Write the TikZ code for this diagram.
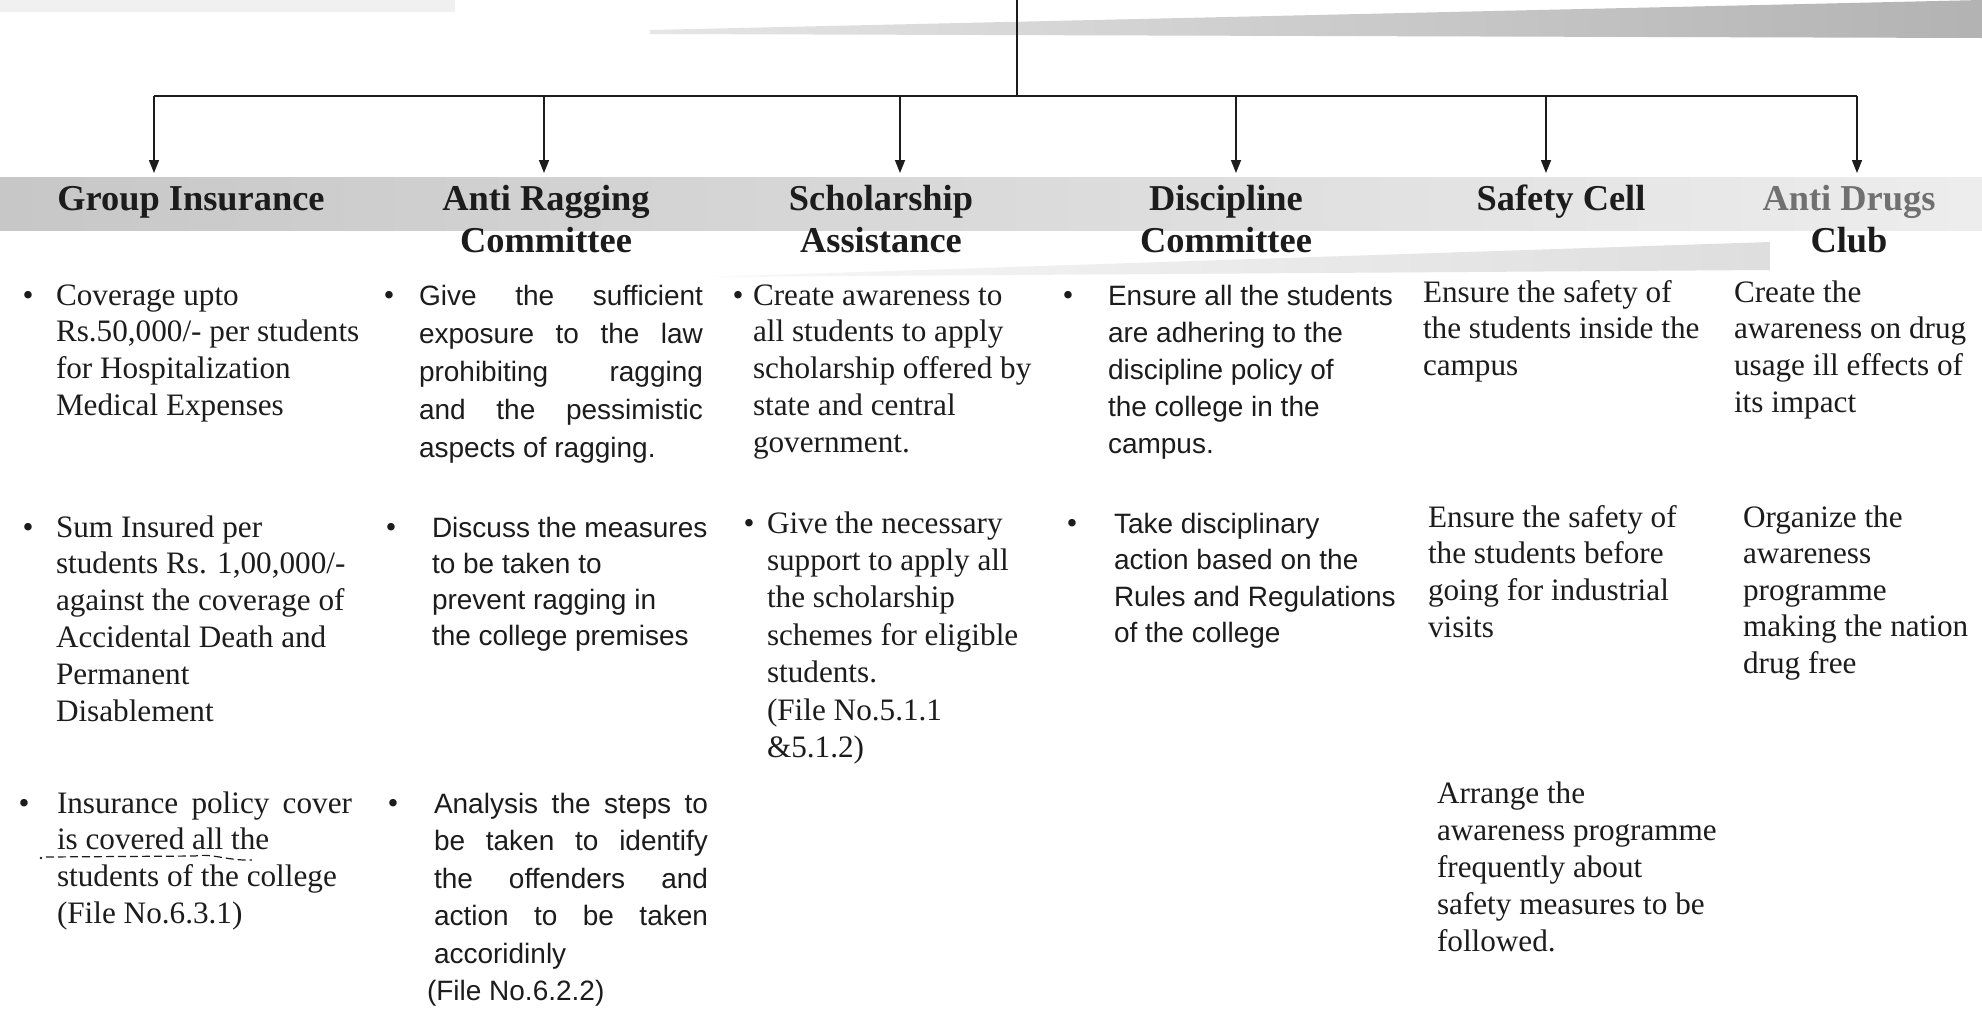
\documentclass[tikz,border=0pt]{standalone}
\usepackage{fontspec}
\setmainfont{Liberation Serif}
\newfontfamily\sansf{Liberation Sans}
\usetikzlibrary{arrows.meta}
\definecolor{ink}{HTML}{1C1C1C}
\definecolor{fadeink}{HTML}{707070}
\begin{document}
\begin{tikzpicture}[x=0.5pt,y=-0.5pt,
  body/.style={anchor=base west, inner sep=0, outer sep=0, align=left, text=ink, font=\fontsize{15.6}{18.4}\selectfont},
  sbody/.style={anchor=base west, inner sep=0, outer sep=0, align=left, text=ink, font=\sansf\fontsize{14}{18.5}\selectfont},
  bul/.style={anchor=base, inner sep=0, outer sep=0, text=ink, font=\fontsize{15.6}{18.4}\selectfont},
  head/.style={anchor=base, inner sep=0, outer sep=0, align=center, text=ink, font=\bfseries\fontsize{18.2}{21}\selectfont},
  conn/.style={draw=ink, line width=0.75pt},
  bus/.style={draw=ink, line width=1.1pt},
  arr/.style={conn, -{Triangle[length=6.5pt,width=5pt]}},
]
\useasboundingbox (0,0) rectangle (1982,1008);
\fill[white] (0,0) rectangle (1982,1008);
% scan shading bands
\fill[black!6] (0,0) rectangle (455,12);
\shade[left color=black!10, right color=black!30] (650,30) -- (1982,0) -- (1982,38) -- (650,34) -- cycle;
\shade[left color=black!22, middle color=black!16, right color=black!7] (0,177) rectangle (1982,230);
\shade[left color=black!3, right color=black!13] (708,277) -- (1770,242) -- (1770,270) -- cycle;

% connectors
\coordinate (root) at (1017,0);
\coordinate (j) at (1017,96);
\foreach \i/\x in {1/154,2/544,3/900,4/1236,5/1546,6/1857}{
  \coordinate (b\i) at (\x,96);
  \coordinate (a\i) at (\x,173);
}
\draw[conn] (root) -- (j);
\draw[bus] (b1) -- (b6);
\foreach \i in {1,...,6}{ \draw[arr] (b\i) -- (a\i); }

% headings (base = last line)
\node[head] (h1) at (191,210) {Group Insurance};
\node[head] (h2) at (546,252) {Anti Ragging\\Committee};
\node[head] (h3) at (881,252) {Scholarship\\Assistance};
\node[head] (h4) at (1226,252) {Discipline\\Committee};
\node[head] (h5) at (1561,210) {Safety Cell};
\node[head] (h6) at (1849,252) {\textcolor{fadeink}{Anti Drugs}\\Club};

% column 1
\node[bul] (g1b) at (28,305) {•};
\node[body] (g1) at (56,415.4) {Coverage upto\\Rs.50,000/- per students\\for Hospitalization\\Medical Expenses};
\node[bul] (g2b) at (28,537) {•};
\node[body] (g2) at (56,721) {Sum Insured per\\students Rs. 1,00,000/-\\against the coverage of\\Accidental Death and\\Permanent\\Disablement};
\node[bul] (g3b) at (24,813) {•};
\node[body] (g3) at (57,923.4) {\makebox[147.5pt][s]{Insurance policy cover}\\is covered all the\\students of the college\\(File No.6.3.1)};
\fill[ink] (41,858) circle (1.4);
\draw[ink, line width=0.6pt, dash pattern=on 4pt off 2pt] (46,857) -- (195,856) .. controls (212,853) and (228,861) .. (252,860);

% column 2
\node[bul] (r1b) at (389,305) {•};
\node[sbody, font=\sansf\fontsize{14}{19}\selectfont] (r1) at (419,457) {\makebox[142pt][s]{Give the sufficient}\\\makebox[142pt][s]{exposure to the law}\\\makebox[142pt][s]{prohibiting ragging}\\\makebox[142pt][s]{and the pessimistic}\\aspects of ragging.};
\node[bul] (r2b) at (391,537) {•};
\node[sbody, font=\sansf\fontsize{14}{18}\selectfont] (r2) at (432,645) {Discuss the measures\\to be taken to\\prevent ragging in\\the college premises};
\node[bul] (r3b) at (393,813) {•};
\node[sbody, font=\sansf\fontsize{14}{18.75}\selectfont] (r3) at (434,1000.5) {\makebox[137pt][s]{Analysis the steps to}\\\makebox[137pt][s]{be taken to identify}\\\makebox[137pt][s]{the offenders and}\\\makebox[137pt][s]{action to be taken}\\accoridinly\\\hspace*{-3.5pt}(File No.6.2.2)};

% column 3
\node[bul] (s1b) at (738,305) {•};
\node[body] (s1) at (753,452.2) {Create awareness to\\all students to apply\\scholarship offered by\\state and central\\government.};
\node[bul] (s2b) at (749,533) {•};
\node[body, font=\fontsize{15.6}{18.7}\selectfont] (s2) at (767,757.4) {Give the necessary\\support to apply all\\the scholarship\\schemes for eligible\\students.\\(File No.5.1.1\\\&5.1.2)};

% column 4
\node[bul] (d1b) at (1068,305) {•};
\node[sbody] (d1) at (1108,453) {Ensure all the students\\are adhering to the\\discipline policy of\\the college in the\\campus.};
\node[bul] (d2b) at (1072,533) {•};
\node[sbody, font=\sansf\fontsize{14}{18.3}\selectfont] (d2) at (1114,642.8) {Take disciplinary\\action based on the\\Rules and Regulations\\of the college};

% column 5
\node[body] (c1) at (1423,375.6) {Ensure the safety of\\the students inside the\\campus};
\node[body] (c2) at (1428,637.4) {Ensure the safety of\\the students before\\going for industrial\\visits};
\node[body, font=\fontsize{15.6}{18.6}\selectfont] (c3) at (1437,951.8) {Arrange the\\awareness programme\\frequently about\\safety measures to be\\followed.};

% column 6
\node[body] (n1) at (1734,412.4) {Create the\\awareness on drug\\usage ill effects of\\its impact};
\node[body, font=\fontsize{15.6}{18.3}\selectfont] (n2) at (1743,673.4) {Organize the\\awareness\\programme\\making the nation\\drug free};
\end{tikzpicture}
\end{document}
